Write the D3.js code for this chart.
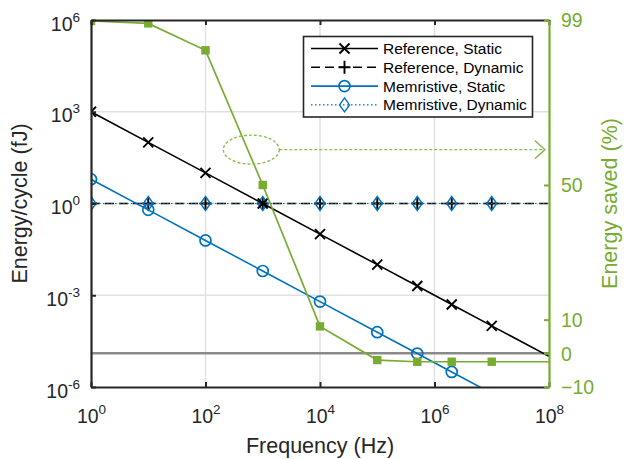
<!DOCTYPE html>
<html>
<head>
<meta charset="utf-8">
<script src="https://cdn.jsdelivr.net/npm/d3@7"></script>
<style>
  html, body { margin: 0; padding: 0; background: #fff; }
  svg { display: block; font-family: "Liberation Sans", Arial, Helvetica, sans-serif; }
</style>
</head>
<body>
<script>
// Sweep frequencies (Hz)
const freqs = [1, 10, 100, 1e3, 1e4, 1e5, 5e5, 2e6, 1e7, 1e8];

// Energy per cycle (fJ)
const refStatic  = [1000, 100, 10, 1, 0.1, 0.01, 0.002, 5e-4, 1e-4, 1e-5];
const refDynamic = [1, 1, 1, 1, 1, 1, 1, 1, 1, 1];
const memStatic  = [6.2, 0.62, 0.062, 0.0062, 6.2e-4, 6.2e-5, 1.24e-5, 3.1e-6, 6.2e-7, 6.2e-8];
const memDynamic = [1, 1, 1, 1, 1, 1, 1, 1, 1, 1];

// Energy saved (%), right axis
const energySaved = [98.7, 98, 90, 50, 8, -2, -2.5, -2.5, -2.5, -2.5];

// Axis ticks
const xTickExps = [0, 2, 4, 6, 8];
const yTickExps = [-6, -3, 0, 3, 6];
const rightTicks = [-10, 0, 10, 50, 99];
const zeroLevel = 0;

const legendLabels = ["Reference, Static", "Reference, Dynamic", "Memristive, Static", "Memristive, Dynamic"];

const W = 624, H = 459;
const L = 91, R = 549, T = 20, B = 387;
const GREEN = "#77AC30", BLUE = "#0072BD", INK = "#262626";

const svg = d3.select("body").append("svg").attr("width", W).attr("height", H);

const x = d3.scaleLog().domain([1, 1e8]).range([L, R]);
const yL = d3.scaleLog().domain([1e-6, 1e6]).range([B, T]);
const yR = d3.scaleLinear().domain([-10, 99]).range([B, T]);

svg.append("defs").append("clipPath").attr("id", "plotClip")
  .append("rect").attr("x", L).attr("y", T).attr("width", R - L).attr("height", B - T);

// Grid
const grid = svg.append("g");
grid.selectAll("line.gx").data(xTickExps.slice(1, -1)).join("line")
  .attr("x1", d => x(Math.pow(10, d))).attr("x2", d => x(Math.pow(10, d)))
  .attr("y1", T).attr("y2", B).attr("stroke", "#e1e1e1").attr("stroke-width", 1.5);
grid.selectAll("line.gy").data(yTickExps.slice(1, -1)).join("line")
  .attr("y1", d => yL(Math.pow(10, d))).attr("y2", d => yL(Math.pow(10, d)))
  .attr("x1", L).attr("x2", R).attr("stroke", "#e1e1e1").attr("stroke-width", 1.5);

const plot = svg.append("g").attr("clip-path", "url(#plotClip)");

// Zero-savings reference line
plot.append("line")
  .attr("x1", L).attr("x2", R).attr("y1", yR(zeroLevel)).attr("y2", yR(zeroLevel))
  .attr("stroke", "#8a8a8a").attr("stroke-width", 2.5);

const pts = vals => freqs.map((f, i) => [f, vals[i]]);
const marked = vals => pts(vals).filter(p => p[0] < 1e8);
const lineL = d3.line().x(d => x(d[0])).y(d => yL(d[1]));
const lineR = d3.line().x(d => x(d[0])).y(d => yR(d[1]));

// Marker shapes
function drawMarker(g, kind, color) {
  if (kind === "x") {
    g.append("path").attr("d", "M-5,-5L5,5M-5,5L5,-5")
      .attr("stroke", color).attr("stroke-width", 1.9).attr("fill", "none");
  } else if (kind === "plus") {
    g.append("path").attr("d", "M-6,0L6,0M0,-6.5L0,6.5")
      .attr("stroke", color).attr("stroke-width", 1.9).attr("fill", "none");
  } else if (kind === "circle") {
    g.append("circle").attr("r", 5.5).attr("stroke", color).attr("stroke-width", 1.7).attr("fill", "none");
  } else if (kind === "diamond") {
    g.append("path").attr("d", "M0,-7L5,0L0,7L-5,0Z")
      .attr("stroke", color).attr("stroke-width", 1.4).attr("fill", "none");
  } else if (kind === "square") {
    g.append("rect").attr("x", -4.2).attr("y", -4.2).attr("width", 8.4).attr("height", 8.4)
      .attr("fill", color);
  }
}

const series = [
  { vals: refDynamic, color: "#000", width: 1.6, dash: "9,5", marker: "plus" },
  { vals: memDynamic, color: BLUE, width: 1.2, dash: "1.5,2.5", marker: "diamond" },
  { vals: refStatic, color: "#000", width: 1.6, dash: null, marker: "x" },
  { vals: memStatic, color: BLUE, width: 1.6, dash: null, marker: "circle" }
];

series.forEach(s => {
  plot.append("path").datum(pts(s.vals)).attr("d", lineL)
    .attr("fill", "none").attr("stroke", s.color).attr("stroke-width", s.width)
    .attr("stroke-dasharray", s.dash);
  plot.selectAll(null).data(marked(s.vals)).join("g")
    .attr("transform", d => `translate(${x(d[0])},${yL(d[1])})`)
    .each(function () { drawMarker(d3.select(this), s.marker, s.color); });
});

// Energy saved (right axis)
plot.append("path").datum(pts(energySaved)).attr("d", lineR)
  .attr("fill", "none").attr("stroke", GREEN).attr("stroke-width", 1.7);
plot.selectAll(null).data(marked(energySaved)).join("g")
  .attr("transform", d => `translate(${x(d[0])},${yR(d[1])})`)
  .each(function () { drawMarker(d3.select(this), "square", GREEN); });

// Callout: ellipse with arrow toward the right axis
const calloutF = Math.pow(10, 2.8), calloutV = 60.5;
const cx = x(calloutF), cy = yR(calloutV);
const ann = svg.append("g").attr("stroke", "#8dbb55").attr("fill", "none").attr("stroke-width", 1.4);
ann.append("ellipse").attr("cx", cx).attr("cy", cy).attr("rx", 28).attr("ry", 14.5)
  .attr("stroke-dasharray", "3,2");
ann.append("line").attr("x1", cx + 28).attr("x2", R - 4).attr("y1", cy).attr("y2", cy)
  .attr("stroke-dasharray", "3,2");
ann.append("path").attr("d", `M${R - 14},${cy - 9}L${R - 4},${cy}L${R - 14},${cy + 9}`);

// Axes
function supLabel(sel, anchor, dx, baseY) {
  sel.each(function (d) {
    const t = d3.select(this);
    t.text(null).attr("text-anchor", anchor).attr("dy", null).attr("y", baseY).attr("x", dx);
    t.append("tspan").text("10");
    t.append("tspan").attr("dy", -9).attr("font-size", 13.5).text(Math.round(Math.log10(d)));
  });
}

const xAxisB = svg.append("g").attr("transform", `translate(0,${B})`)
  .call(d3.axisBottom(x).tickValues(xTickExps.map(e => Math.pow(10, e))).tickSize(-5).tickSizeOuter(0));
const xAxisT = svg.append("g").attr("transform", `translate(0,${T})`)
  .call(d3.axisTop(x).tickValues(xTickExps.map(e => Math.pow(10, e))).tickSize(-5).tickSizeOuter(0).tickFormat(""));
const yAxisL = svg.append("g").attr("transform", `translate(${L},0)`)
  .call(d3.axisLeft(yL).tickValues(yTickExps.map(e => Math.pow(10, e))).tickSize(-5).tickSizeOuter(0));
const yAxisR = svg.append("g").attr("transform", `translate(${R},0)`)
  .call(d3.axisRight(yR).tickValues(rightTicks).tickSize(-5).tickSizeOuter(0).tickFormat(d3.format("d")));

[xAxisB, xAxisT, yAxisL].forEach(g => {
  g.selectAll(".domain").attr("stroke", INK).attr("stroke-width", 2.2);
  g.selectAll(".tick line").attr("stroke", INK).attr("stroke-width", 2);
  g.selectAll(".tick text").attr("fill", INK).attr("font-size", 19.5).attr("font-family", null);
});
yAxisR.selectAll(".domain").attr("stroke", GREEN).attr("stroke-width", 2.2);
yAxisR.selectAll(".tick line").attr("stroke", GREEN).attr("stroke-width", 2);
yAxisR.selectAll(".tick text").attr("fill", GREEN).attr("font-size", 19.5).attr("font-family", null)
  .attr("x", 12).attr("dy", "0.35em");

supLabel(xAxisB.selectAll(".tick text"), "middle", 0, 36);
supLabel(yAxisL.selectAll(".tick text"), "end", -11, 10);

// Axis titles
svg.append("text").attr("x", (L + R) / 2).attr("y", 453).attr("text-anchor", "middle")
  .attr("font-size", 21.5).attr("fill", INK).text("Frequency (Hz)");
svg.append("text").attr("transform", `translate(27,${(T + B) / 2}) rotate(-90)`)
  .attr("text-anchor", "middle").attr("font-size", 21.5).attr("fill", INK).text("Energy/cycle (fJ)");
svg.append("text").attr("transform", `translate(617,${(T + B) / 2}) rotate(-90)`)
  .attr("text-anchor", "middle").attr("font-size", 21.5).attr("fill", GREEN).text("Energy saved (%)");

// Legend
const lg = svg.append("g");
lg.append("rect").attr("x", 303.5).attr("y", 36.5).attr("width", 229).attr("height", 80.5)
  .attr("fill", "#fff").attr("stroke", INK).attr("stroke-width", 1.6);
const legendSeries = [series[2], series[0], series[3], series[1]];
legendSeries.forEach((s, i) => {
  const yy = 48.5 + i * 18.8;
  lg.append("line").attr("x1", 311).attr("x2", 378).attr("y1", yy).attr("y2", yy)
    .attr("stroke", s.color).attr("stroke-width", s.width).attr("stroke-dasharray", s.dash);
  const m = lg.append("g").attr("transform", `translate(344.5,${yy})`);
  drawMarker(m, s.marker, s.color);
  lg.append("text").attr("x", 383).attr("y", yy).attr("dy", "0.36em")
    .attr("font-size", 15.5).attr("fill", "#000").text(legendLabels[i]);
});
</script>
</body>
</html>
